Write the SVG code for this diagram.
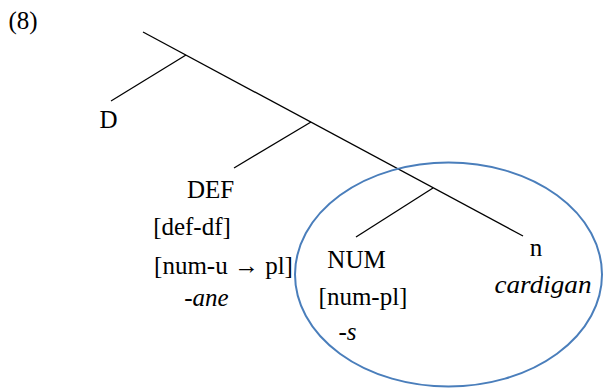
<svg xmlns="http://www.w3.org/2000/svg" width="603" height="388" viewBox="0 0 603 388">
<style>
text{font-family:"Liberation Serif","Times New Roman",serif;font-size:25px;fill:#000;text-anchor:middle}
.it{font-style:italic}
.edge{stroke:#000;stroke-width:1.3;fill:none}
</style>
<rect width="603" height="388" fill="#fff"/>
<text x="23" y="29">(8)</text>
<g id="connectors">
<line class="edge" x1="143" y1="32" x2="523" y2="236"/>
<line class="edge" x1="186" y1="55" x2="111" y2="101"/>
<line class="edge" x1="311" y1="122" x2="234" y2="168"/>
<line class="edge" x1="433" y1="188" x2="356" y2="237"/>
</g>
<g id="domain">
<ellipse cx="448.5" cy="274.5" rx="153.5" ry="112" fill="none" stroke="#4a7ebb" stroke-width="2"/>
</g>
<g id="D"><text x="108.5" y="128">D</text></g>
<g id="DEF">
<text x="210.5" y="198">DEF</text>
<text x="192" y="235">[def-df]</text>
<text x="223.5" y="274">[num-u → pl]</text>
<text x="206.5" y="306">-<tspan class="it">ane</tspan></text>
</g>
<g id="NUM">
<text x="356.5" y="268">NUM</text>
<text x="363" y="305">[num-pl]</text>
<text x="347.5" y="340">-<tspan class="it">s</tspan></text>
</g>
<g id="n">
<text x="536" y="256">n</text>
<text x="543" y="293" class="it" textLength="97" lengthAdjust="spacingAndGlyphs">cardigan</text>
</g>
</svg>
